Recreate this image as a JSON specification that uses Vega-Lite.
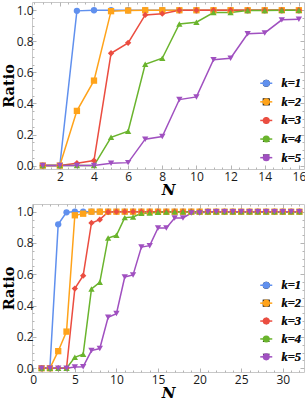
{
"$schema": "https://vega.github.io/schema/vega-lite/v6.json",
"padding": {"left": 0, "top": 1, "right": 2, "bottom": 0},
"spacing": 5,
"datasets": {
"top": [
{"N":1,"k":"k=1","r":0},{"N":2,"k":"k=1","r":0},{"N":3,"k":"k=1","r":0.996},{"N":4,"k":"k=1","r":1},{"N":5,"k":"k=1","r":1},{"N":6,"k":"k=1","r":1},{"N":7,"k":"k=1","r":1},{"N":8,"k":"k=1","r":1},{"N":9,"k":"k=1","r":1},{"N":10,"k":"k=1","r":1},{"N":11,"k":"k=1","r":1},{"N":12,"k":"k=1","r":1},{"N":13,"k":"k=1","r":1},{"N":14,"k":"k=1","r":1},{"N":15,"k":"k=1","r":1},{"N":16,"k":"k=1","r":1},
{"N":1,"k":"k=2","r":0},{"N":2,"k":"k=2","r":0},{"N":3,"k":"k=2","r":0.352},{"N":4,"k":"k=2","r":0.547},{"N":5,"k":"k=2","r":0.994},{"N":6,"k":"k=2","r":0.998},{"N":7,"k":"k=2","r":1},{"N":8,"k":"k=2","r":1},{"N":9,"k":"k=2","r":1},{"N":10,"k":"k=2","r":1},{"N":11,"k":"k=2","r":1},{"N":12,"k":"k=2","r":1},{"N":13,"k":"k=2","r":1},{"N":14,"k":"k=2","r":1},{"N":15,"k":"k=2","r":1},{"N":16,"k":"k=2","r":1},
{"N":1,"k":"k=3","r":0},{"N":2,"k":"k=3","r":0},{"N":3,"k":"k=3","r":0.015},{"N":4,"k":"k=3","r":0.032},{"N":5,"k":"k=3","r":0.723},{"N":6,"k":"k=3","r":0.79},{"N":7,"k":"k=3","r":0.97},{"N":8,"k":"k=3","r":0.978},{"N":9,"k":"k=3","r":1},{"N":10,"k":"k=3","r":1},{"N":11,"k":"k=3","r":1},{"N":12,"k":"k=3","r":1},{"N":13,"k":"k=3","r":1},{"N":14,"k":"k=3","r":1},{"N":15,"k":"k=3","r":1},{"N":16,"k":"k=3","r":1},
{"N":1,"k":"k=4","r":0},{"N":2,"k":"k=4","r":0},{"N":3,"k":"k=4","r":0},{"N":4,"k":"k=4","r":0},{"N":5,"k":"k=4","r":0.182},{"N":6,"k":"k=4","r":0.221},{"N":7,"k":"k=4","r":0.652},{"N":8,"k":"k=4","r":0.691},{"N":9,"k":"k=4","r":0.912},{"N":10,"k":"k=4","r":0.923},{"N":11,"k":"k=4","r":0.985},{"N":12,"k":"k=4","r":0.986},{"N":13,"k":"k=4","r":0.998},{"N":14,"k":"k=4","r":0.999},{"N":15,"k":"k=4","r":1},{"N":16,"k":"k=4","r":1},
{"N":1,"k":"k=5","r":0},{"N":2,"k":"k=5","r":0},{"N":3,"k":"k=5","r":0},{"N":4,"k":"k=5","r":0},{"N":5,"k":"k=5","r":0.015},{"N":6,"k":"k=5","r":0.019},{"N":7,"k":"k=5","r":0.17},{"N":8,"k":"k=5","r":0.187},{"N":9,"k":"k=5","r":0.425},{"N":10,"k":"k=5","r":0.442},{"N":11,"k":"k=5","r":0.682},{"N":12,"k":"k=5","r":0.691},{"N":13,"k":"k=5","r":0.848},{"N":14,"k":"k=5","r":0.854},{"N":15,"k":"k=5","r":0.938},{"N":16,"k":"k=5","r":0.942}
],
"bottom": [
{"N":1,"k":"k=1","r":0},{"N":2,"k":"k=1","r":0},{"N":3,"k":"k=1","r":0.919},{"N":4,"k":"k=1","r":0.996},{"N":5,"k":"k=1","r":1},{"N":6,"k":"k=1","r":1},{"N":7,"k":"k=1","r":1},{"N":8,"k":"k=1","r":1},{"N":9,"k":"k=1","r":1},{"N":10,"k":"k=1","r":1},{"N":11,"k":"k=1","r":1},{"N":12,"k":"k=1","r":1},{"N":13,"k":"k=1","r":1},{"N":14,"k":"k=1","r":1},{"N":15,"k":"k=1","r":1},{"N":16,"k":"k=1","r":1},{"N":17,"k":"k=1","r":1},{"N":18,"k":"k=1","r":1},{"N":19,"k":"k=1","r":1},{"N":20,"k":"k=1","r":1},{"N":21,"k":"k=1","r":1},{"N":22,"k":"k=1","r":1},{"N":23,"k":"k=1","r":1},{"N":24,"k":"k=1","r":1},{"N":25,"k":"k=1","r":1},{"N":26,"k":"k=1","r":1},{"N":27,"k":"k=1","r":1},{"N":28,"k":"k=1","r":1},{"N":29,"k":"k=1","r":1},{"N":30,"k":"k=1","r":1},{"N":31,"k":"k=1","r":1},{"N":32,"k":"k=1","r":1},
{"N":1,"k":"k=2","r":0},{"N":2,"k":"k=2","r":0},{"N":3,"k":"k=2","r":0.109},{"N":4,"k":"k=2","r":0.234},{"N":5,"k":"k=2","r":0.977},{"N":6,"k":"k=2","r":0.987},{"N":7,"k":"k=2","r":1},{"N":8,"k":"k=2","r":1},{"N":9,"k":"k=2","r":1},{"N":10,"k":"k=2","r":1},{"N":11,"k":"k=2","r":1},{"N":12,"k":"k=2","r":1},{"N":13,"k":"k=2","r":1},{"N":14,"k":"k=2","r":1},{"N":15,"k":"k=2","r":1},{"N":16,"k":"k=2","r":1},{"N":17,"k":"k=2","r":1},{"N":18,"k":"k=2","r":1},{"N":19,"k":"k=2","r":1},{"N":20,"k":"k=2","r":1},{"N":21,"k":"k=2","r":1},{"N":22,"k":"k=2","r":1},{"N":23,"k":"k=2","r":1},{"N":24,"k":"k=2","r":1},{"N":25,"k":"k=2","r":1},{"N":26,"k":"k=2","r":1},{"N":27,"k":"k=2","r":1},{"N":28,"k":"k=2","r":1},{"N":29,"k":"k=2","r":1},{"N":30,"k":"k=2","r":1},{"N":31,"k":"k=2","r":1},{"N":32,"k":"k=2","r":1},
{"N":1,"k":"k=3","r":0},{"N":2,"k":"k=3","r":0},{"N":3,"k":"k=3","r":0},{"N":4,"k":"k=3","r":0},{"N":5,"k":"k=3","r":0.509},{"N":6,"k":"k=3","r":0.591},{"N":7,"k":"k=3","r":0.928},{"N":8,"k":"k=3","r":0.949},{"N":9,"k":"k=3","r":0.998},{"N":10,"k":"k=3","r":1},{"N":11,"k":"k=3","r":1},{"N":12,"k":"k=3","r":1},{"N":13,"k":"k=3","r":1},{"N":14,"k":"k=3","r":1},{"N":15,"k":"k=3","r":1},{"N":16,"k":"k=3","r":1},{"N":17,"k":"k=3","r":1},{"N":18,"k":"k=3","r":1},{"N":19,"k":"k=3","r":1},{"N":20,"k":"k=3","r":1},{"N":21,"k":"k=3","r":1},{"N":22,"k":"k=3","r":1},{"N":23,"k":"k=3","r":1},{"N":24,"k":"k=3","r":1},{"N":25,"k":"k=3","r":1},{"N":26,"k":"k=3","r":1},{"N":27,"k":"k=3","r":1},{"N":28,"k":"k=3","r":1},{"N":29,"k":"k=3","r":1},{"N":30,"k":"k=3","r":1},{"N":31,"k":"k=3","r":1},{"N":32,"k":"k=3","r":1},
{"N":1,"k":"k=4","r":0},{"N":2,"k":"k=4","r":0},{"N":3,"k":"k=4","r":0},{"N":4,"k":"k=4","r":0},{"N":5,"k":"k=4","r":0.07},{"N":6,"k":"k=4","r":0.089},{"N":7,"k":"k=4","r":0.506},{"N":8,"k":"k=4","r":0.549},{"N":9,"k":"k=4","r":0.832},{"N":10,"k":"k=4","r":0.849},{"N":11,"k":"k=4","r":0.962},{"N":12,"k":"k=4","r":0.966},{"N":13,"k":"k=4","r":0.99},{"N":14,"k":"k=4","r":0.991},{"N":15,"k":"k=4","r":0.997},{"N":16,"k":"k=4","r":0.998},{"N":17,"k":"k=4","r":1},{"N":18,"k":"k=4","r":1},{"N":19,"k":"k=4","r":1},{"N":20,"k":"k=4","r":1},{"N":21,"k":"k=4","r":1},{"N":22,"k":"k=4","r":1},{"N":23,"k":"k=4","r":1},{"N":24,"k":"k=4","r":1},{"N":25,"k":"k=4","r":1},{"N":26,"k":"k=4","r":1},{"N":27,"k":"k=4","r":1},{"N":28,"k":"k=4","r":1},{"N":29,"k":"k=4","r":1},{"N":30,"k":"k=4","r":1},{"N":31,"k":"k=4","r":1},{"N":32,"k":"k=4","r":1},
{"N":1,"k":"k=5","r":0},{"N":2,"k":"k=5","r":0},{"N":3,"k":"k=5","r":0},{"N":4,"k":"k=5","r":0},{"N":5,"k":"k=5","r":0.008},{"N":6,"k":"k=5","r":0.01},{"N":7,"k":"k=5","r":0.113},{"N":8,"k":"k=5","r":0.126},{"N":9,"k":"k=5","r":0.326},{"N":10,"k":"k=5","r":0.349},{"N":11,"k":"k=5","r":0.583},{"N":12,"k":"k=5","r":0.596},{"N":13,"k":"k=5","r":0.774},{"N":14,"k":"k=5","r":0.783},{"N":15,"k":"k=5","r":0.896},{"N":16,"k":"k=5","r":0.896},{"N":17,"k":"k=5","r":0.96},{"N":18,"k":"k=5","r":0.96},{"N":19,"k":"k=5","r":0.991},{"N":20,"k":"k=5","r":0.991},{"N":21,"k":"k=5","r":1},{"N":22,"k":"k=5","r":1},{"N":23,"k":"k=5","r":1},{"N":24,"k":"k=5","r":1},{"N":25,"k":"k=5","r":1},{"N":26,"k":"k=5","r":1},{"N":27,"k":"k=5","r":1},{"N":28,"k":"k=5","r":1},{"N":29,"k":"k=5","r":1},{"N":30,"k":"k=5","r":1},{"N":31,"k":"k=5","r":1},{"N":32,"k":"k=5","r":1}
]
},
"vconcat": [
{
"data": {"name": "top"},
"width": 272, "height": 167,
"layer": [
{"mark": {"type": "line", "strokeWidth": 1.5},
"encoding": {
"x": {"field": "N", "type": "quantitative", "scale": {"domain": [0.37, 16.3], "nice": false, "zero": false},
"axis": {"orient": "bottom", "values": [0.5,1,1.5,2,2.5,3,3.5,4,4.5,5,5.5,6,6.5,7,7.5,8,8.5,9,9.5,10,10.5,11,11.5,12,12.5,13,13.5,14,14.5,15,15.5,16],
"labelExpr": "datum.value % 2 === 0 ? format(datum.value, 'd') : ''",
"tickSize": {"condition": {"test": "datum.value % 2 === 0", "value": -4}, "value": -2},
"labelPadding": 6, "labelOverlap": false, "labelFlush": false, "title": "N", "titleFontStyle": "italic", "titleFontSize": 15, "titlePadding": -2}},
"y": {"field": "r", "type": "quantitative", "scale": {"domain": [-0.022, 1.053], "nice": false, "zero": false},
"axis": {"orient": "left", "values": [0,0.05,0.1,0.15,0.2,0.25,0.3,0.35,0.4,0.45,0.5,0.55,0.6,0.65,0.7,0.75,0.8,0.85,0.9,0.95,1],
"labelExpr": "abs(datum.value*5 - round(datum.value*5)) < 0.000001 ? format(datum.value, '.1f') : ''",
"tickSize": {"condition": {"test": "abs(datum.value*5 - round(datum.value*5)) < 0.000001", "value": -4}, "value": -2},
"labelPadding": 3, "labelOverlap": false, "labelFlush": false, "title": "Ratio", "titleFontSize": 14.5, "titlePadding": 0}},
"color": {"field": "k", "type": "nominal", "scale": {"domain": ["k=1","k=2","k=3","k=4","k=5"], "range": ["#6090EE","#FFA31A","#EB4D40","#6AB42D","#A050C0"]},
"legend": {"orient": "none", "legendX": 228, "legendY": 75, "title": null, "padding": 0, "symbolType": "M-1.7,0L1.7,0", "symbolSize": 50, "symbolStrokeWidth": 1.5, "labelOpacity": 0, "labelFont": "Liberation Serif", "labelFontStyle": "italic", "labelFontWeight": "bold", "labelFontSize": 12.5, "labelOffset": 9, "rowPadding": 5.6}}
}},
{"mark": {"type": "point", "filled": true, "size": 40, "opacity": 1},
"encoding": {
"x": {"field": "N", "type": "quantitative",
"axis": {"orient": "top", "values": [0.5,1,1.5,2,2.5,3,3.5,4,4.5,5,5.5,6,6.5,7,7.5,8,8.5,9,9.5,10,10.5,11,11.5,12,12.5,13,13.5,14,14.5,15,15.5,16], "labels": false, "title": null,
"tickSize": {"condition": {"test": "datum.value % 2 === 0", "value": -4}, "value": -2}}},
"y": {"field": "r", "type": "quantitative",
"axis": {"orient": "right", "values": [0,0.05,0.1,0.15,0.2,0.25,0.3,0.35,0.4,0.45,0.5,0.55,0.6,0.65,0.7,0.75,0.8,0.85,0.9,0.95,1], "labels": false, "title": null,
"tickSize": {"condition": {"test": "abs(datum.value*5 - round(datum.value*5)) < 0.000001", "value": -4}, "value": -2}}},
"color": {"field": "k", "type": "nominal",
"legend": {"orient": "none", "legendX": 228, "legendY": 75, "title": null, "padding": 0, "symbolSize": 50, "symbolStrokeWidth": 0, "labelFont": "Liberation Serif", "labelFontStyle": "italic", "labelFontWeight": "bold", "labelFontSize": 12.5, "labelOffset": 9, "rowPadding": 5.6, "labelColor": "#111"}},
"shape": {"field": "k", "type": "nominal", "scale": {"domain": ["k=1","k=2","k=3","k=4","k=5"], "range": ["circle","square","diamond","triangle-up","triangle-down"]},
"legend": {"orient": "none", "legendX": 228, "legendY": 75, "title": null, "padding": 0, "symbolSize": 50, "symbolStrokeWidth": 0, "labelFont": "Liberation Serif", "labelFontStyle": "italic", "labelFontWeight": "bold", "labelFontSize": 12.5, "labelOffset": 9, "rowPadding": 5.6, "labelColor": "#111"}}
}}
],
"resolve": {"axis": {"x": "independent", "y": "independent"}, "legend": {"color": "independent"}}
},
{
"data": {"name": "bottom"},
"width": 272, "height": 168,
"layer": [
{"mark": {"type": "line", "strokeWidth": 1.5},
"encoding": {
"x": {"field": "N", "type": "quantitative", "scale": {"domain": [-0.15, 32.55], "nice": false, "zero": false},
"axis": {"orient": "bottom", "values": [0,1,2,3,4,5,6,7,8,9,10,11,12,13,14,15,16,17,18,19,20,21,22,23,24,25,26,27,28,29,30,31,32],
"labelExpr": "datum.value % 5 === 0 ? format(datum.value, 'd') : ''",
"tickSize": {"condition": {"test": "datum.value % 5 === 0", "value": -4}, "value": -2},
"labelPadding": 6, "labelOverlap": false, "labelFlush": false, "title": "N", "titleFontStyle": "italic", "titleFontSize": 15, "titlePadding": -2}},
"y": {"field": "r", "type": "quantitative", "scale": {"domain": [-0.024, 1.049], "nice": false, "zero": false},
"axis": {"orient": "left", "values": [0,0.05,0.1,0.15,0.2,0.25,0.3,0.35,0.4,0.45,0.5,0.55,0.6,0.65,0.7,0.75,0.8,0.85,0.9,0.95,1],
"labelExpr": "abs(datum.value*5 - round(datum.value*5)) < 0.000001 ? format(datum.value, '.1f') : ''",
"tickSize": {"condition": {"test": "abs(datum.value*5 - round(datum.value*5)) < 0.000001", "value": -4}, "value": -2},
"labelPadding": 3, "labelOverlap": false, "labelFlush": false, "title": "Ratio", "titleFontSize": 14.5, "titlePadding": 0}},
"color": {"field": "k", "type": "nominal", "scale": {"domain": ["k=1","k=2","k=3","k=4","k=5"], "range": ["#6090EE","#FFA31A","#EB4D40","#6AB42D","#A050C0"]},
"legend": {"orient": "none", "legendX": 228, "legendY": 75, "title": null, "padding": 0, "symbolType": "M-1.7,0L1.7,0", "symbolSize": 50, "symbolStrokeWidth": 1.5, "labelOpacity": 0, "labelFont": "Liberation Serif", "labelFontStyle": "italic", "labelFontWeight": "bold", "labelFontSize": 12.5, "labelOffset": 9, "rowPadding": 4.9}}
}},
{"mark": {"type": "point", "filled": true, "size": 40, "opacity": 1},
"encoding": {
"x": {"field": "N", "type": "quantitative",
"axis": {"orient": "top", "values": [0,1,2,3,4,5,6,7,8,9,10,11,12,13,14,15,16,17,18,19,20,21,22,23,24,25,26,27,28,29,30,31,32], "labels": false, "title": null,
"tickSize": {"condition": {"test": "datum.value % 5 === 0", "value": -4}, "value": -2}}},
"y": {"field": "r", "type": "quantitative",
"axis": {"orient": "right", "values": [0,0.05,0.1,0.15,0.2,0.25,0.3,0.35,0.4,0.45,0.5,0.55,0.6,0.65,0.7,0.75,0.8,0.85,0.9,0.95,1], "labels": false, "title": null,
"tickSize": {"condition": {"test": "abs(datum.value*5 - round(datum.value*5)) < 0.000001", "value": -4}, "value": -2}}},
"color": {"field": "k", "type": "nominal",
"legend": {"orient": "none", "legendX": 228, "legendY": 75, "title": null, "padding": 0, "symbolSize": 50, "symbolStrokeWidth": 0, "labelFont": "Liberation Serif", "labelFontStyle": "italic", "labelFontWeight": "bold", "labelFontSize": 12.5, "labelOffset": 9, "rowPadding": 4.9, "labelColor": "#111"}},
"shape": {"field": "k", "type": "nominal", "scale": {"domain": ["k=1","k=2","k=3","k=4","k=5"], "range": ["circle","square","diamond","triangle-up","triangle-down"]},
"legend": {"orient": "none", "legendX": 228, "legendY": 75, "title": null, "padding": 0, "symbolSize": 50, "symbolStrokeWidth": 0, "labelFont": "Liberation Serif", "labelFontStyle": "italic", "labelFontWeight": "bold", "labelFontSize": 12.5, "labelOffset": 9, "rowPadding": 4.9, "labelColor": "#111"}}
}}
],
"resolve": {"axis": {"x": "independent", "y": "independent"}, "legend": {"color": "independent"}}
}
],
"resolve": {"scale": {"color": "independent", "shape": "independent", "x": "independent", "y": "independent"}, "legend": {"color": "independent", "shape": "independent"}},
"config": {
"view": {"stroke": "#c8c8c8", "strokeWidth": 1},
"axis": {"domain": false, "grid": false, "labelFont": "Open Sans", "labelFontSize": 12, "labelColor": "#1a1a1a", "tickColor": "#b4b4b4", "tickWidth": 1, "titleFont": "DejaVu Serif", "titleFontWeight": "bold", "titleColor": "#000"}
}
}
